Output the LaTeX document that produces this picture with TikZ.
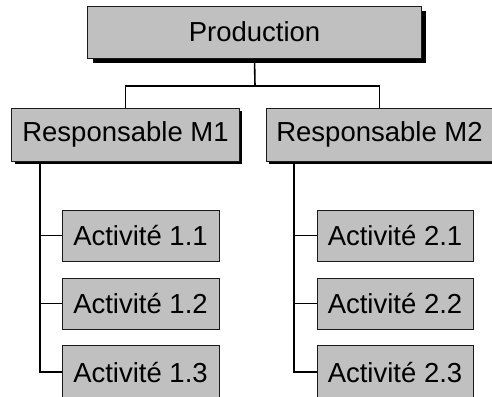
\documentclass[tikz,border=0pt]{standalone}
\usepackage{fontspec}
\setmainfont{Liberation Sans}
\usetikzlibrary{shadows}
\definecolor{boxgray}{HTML}{C0C0C0}
\definecolor{boxline}{HTML}{1A1A1A}
\begin{document}
\begin{tikzpicture}[x=1bp,y=-1bp,
  box/.style={draw=boxline,line width=1bp,fill=boxgray,inner sep=0pt,
    font=\fontsize{27.6}{32}\selectfont,text=black},
  shadowbig/.style={drop shadow={shadow xshift=5bp,shadow yshift=-5bp,fill=black,opacity=1}},
  shadowsmall/.style={drop shadow={shadow xshift=3bp,shadow yshift=-3bp,fill=black,opacity=1}},
  link/.style={draw=black,line width=1.6bp}]
\useasboundingbox (0,0) rectangle (492,396);
\clip (0,0) rectangle (492,396);
\fill[white] (0,0) rectangle (492,396);

% top level
\node[box,shadowbig,minimum width=333bp,minimum height=52bp] (prod) at (254.5,32) {Production};

% managers
\node[box,shadowsmall,minimum width=227bp,minimum height=53bp] (m1) at (125.5,134.5) {Responsable M1};
\node[box,shadowsmall,minimum width=227bp,minimum height=53bp] (m2) at (379.5,134.5) {Responsable M2};

% activities
\node[box,minimum width=157bp,minimum height=51bp] (a11) at (140.5,235.5) {Activité 1.1};
\node[box,minimum width=157bp,minimum height=51bp] (a12) at (140.5,303.5) {Activité 1.2};
\node[box,minimum width=157bp,minimum height=54bp] (a13) at (140.5,372) {Activité 1.3};
\node[box,minimum width=156bp,minimum height=51bp] (a21) at (395,235.5) {Activité 2.1};
\node[box,minimum width=156bp,minimum height=51bp] (a22) at (395,303.5) {Activité 2.2};
\node[box,minimum width=156bp,minimum height=54bp] (a23) at (395,372) {Activité 2.3};

% connectors
\coordinate (bus) at (255,86);
\draw[link] (prod.south) -- (bus);
\draw[link] (m1.north) |- (bus) -| (m2.north);

\coordinate (l1) at (40,162);
\coordinate (l2) at (294,162);
\draw[link] (l1) |- (a13.west);
\draw[link] (a11.west) -- (a11.west -| l1);
\draw[link] (a12.west) -- (a12.west -| l1);
\draw[link] (l2) |- (a23.west);
\draw[link] (a21.west) -- (a21.west -| l2);
\draw[link] (a22.west) -- (a22.west -| l2);
\end{tikzpicture}
\end{document}
